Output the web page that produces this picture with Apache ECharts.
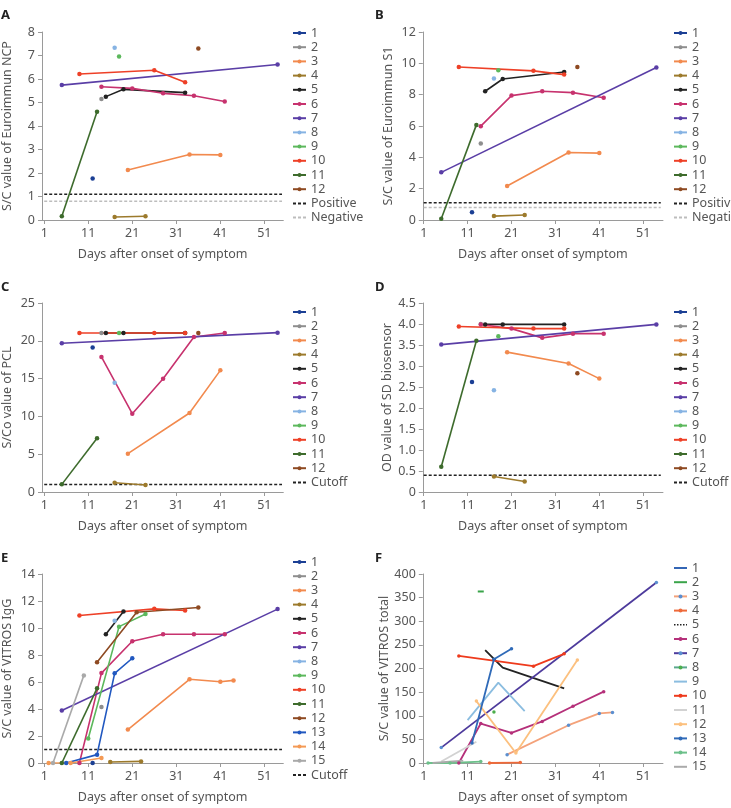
<!DOCTYPE html>
<html>
<head>
<meta charset="utf-8">
<script src="https://cdn.jsdelivr.net/npm/echarts@6/dist/echarts.min.js"></script>
<style>
  html, body { margin: 0; background: #fff; }
  #chart { width: 731px; height: 808px; }
</style>
</head>
<body>
<div id="chart"></div>
<script>
// patient labels and x ticks
const patients12 = ['1', '2', '3', '4', '5', '6', '7', '8', '9', '10', '11', '12']
const patients15 = ['1', '2', '3', '4', '5', '6', '7', '8', '9', '10', '11', '12', '13', '14', '15']
const dayTicks = [1, 11, 21, 31, 41, 51]

// sampling days of patients 1-12 (panels A-D)
const sampleDays = [[12], [14], [20, 34, 41], [17, 24], [15, 19, 33], [14, 21, 28, 35, 42], [5, 54], [17], [18], [9, 26, 33], [5, 13], [36]]

// A: Euroimmun NCP
const ncpValues = [[1.77], [5.15], [2.13, 2.79, 2.77], [0.13, 0.16], [5.25, 5.56, 5.42], [5.67, 5.6, 5.39, 5.29, 5.04], [5.74, 6.62], [7.33], [6.96], [6.21, 6.37, 5.86], [0.16, 4.61], [7.3]]
const ncpPositive = 1.1
const ncpNegative = 0.8

// B: Euroimmun S1
const s1Values = [[0.49], [4.89], [2.17, 4.31, 4.27], [0.25, 0.32], [8.22, 9.0, 9.45], [5.99, 7.94, 8.22, 8.13, 7.8], [3.04, 9.73], [9.03], [9.56], [9.77, 9.52, 9.28], [0.08, 6.07], [9.77]]
const s1Positive = 1.1
const s1Negative = 0.8

// C: PCL
const pclValues = [[19.1], [21.03], [5.07, 10.45, 16.09], [1.23, 0.93], [21.03, 21.03, 21.03], [17.86, 10.36, 14.99, 20.5, 21.03], [19.67, 21.08], [14.46], [21.03], [21.03, 21.03, 21.03], [1.01, 7.1], [21.03]]
const pclCutoff = 1.0

// D: SD biosensor
const sdValues = [[2.62], [4.0], [3.33, 3.06, 2.7], [0.37, 0.25], [3.99, 3.99, 3.99], [3.99, 3.89, 3.67, 3.77, 3.77], [3.51, 3.99], [2.42], [3.71], [3.94, 3.89, 3.89], [0.6, 3.6], [2.83]]
const sdCutoff = 0.4

// E: VITROS IgG  [day, value]
const iggPoints = [
  [[12, 0]],
  [[14, 4.15]],
  [[20, 2.48], [34, 6.2], [41, 6.02], [44, 6.12]],
  [[16, 0.07], [23, 0.12]],
  [[15, 9.54], [19, 11.22]],
  [[9, 0], [14, 6.66], [21, 9.02], [28, 9.54], [35, 9.54], [42, 9.54]],
  [[5, 3.89], [54, 11.4]],
  [[17, 10.53]],
  [[11, 1.81], [18, 10.1], [24, 11.03]],
  [[9, 10.93], [26, 11.42], [33, 11.3]],
  [[5, 0], [13, 5.53]],
  [[13, 7.46], [22, 11.17], [36, 11.52]],
  [[6, 0], [13, 0.62], [17, 6.64], [21, 7.76]],
  [[2, 0], [7, 0], [14, 0.37]],
  [[3, 0], [10, 6.49]]
]
const iggCutoff = 1.0

// F: VITROS total  [day, value]
const totalPoints = [
  [[12, 0]],
  [[14, 363]],
  [[20, 17.7], [34, 80], [41, 105], [44, 107]],
  [[16, 0], [23, 1]],
  [[15, 239], [19, 202], [33, 158]],
  [[9, 0], [14, 83.5], [21, 63.7], [28, 88], [35, 120], [42, 151]],
  [[5, 32.6], [54, 382]],
  [[17, 108]],
  [[11, 90.6], [18, 170], [24, 110]],
  [[9, 226.5], [26, 205], [33, 231]],
  [[5, 3], [13, 45]],
  [[13, 131], [22, 21], [36, 218]],
  [[12, 42.5], [17, 219.5], [21, 242]],
  [[2, 0], [7, 0], [14, 3]],
  [[3, 0], [10, 5]]
]

const colors = ['#1b3f94', '#8e8e8e', '#f28a4e', '#9c7a2c', '#222222', '#c7326e', '#5a3ea6', '#86b3e3', '#5cb85c', '#ee4027', '#3d6b2c', '#8e4a22', '#2158c0', '#f49a55', '#a9a9a9']

// panel F uses its own look
const fStyles = [
  { line: '#3466b5', dot: null },
  { line: '#3aa44a', dot: '#3aa44a', sym: 'rect' },
  { line: '#f4a27a', dot: '#5b8fd0' },
  { line: '#ee6a3a', dot: '#ee6a3a' },
  { line: '#222222', dot: null, dotted: true },
  { line: '#b5307a', dot: '#b5307a' },
  { line: '#4d3a9c', dot: '#5b8fd0' },
  { line: '#5aa88e', dot: '#4cae4c' },
  { line: '#8bbde0', dot: null },
  { line: '#ee3a1c', dot: '#ee3a1c' },
  { line: '#d2d2d2', dot: null },
  { line: '#fcc07e', dot: '#fcc07e' },
  { line: '#2f6ab8', dot: '#2f6ab8' },
  { line: '#6cc08a', dot: '#6cc08a' },
  { line: '#aaaaaa', dot: null }
]

const FONT = '"Noto Sans", sans-serif'
const TXT = '#555'
const AXC = '#9a9a9a'

const zip = (days, vals) => days.map((d, i) => [d, vals[i]])

const panels = [
  { key: 'A', yName: 'S/C value of Euroimmun NCP', yMax: 8, yStep: 1, right: false, row: 0,
    lines: sampleDays.map((d, i) => zip(d, ncpValues[i])), names: patients12,
    refs: [{ name: 'Positive', v: ncpPositive, c: '#222' }, { name: 'Negative', v: ncpNegative, c: '#bdbdbd' }] },
  { key: 'B', yName: 'S/C value of Euroimmun S1', yMax: 12, yStep: 2, right: true, row: 0,
    lines: sampleDays.map((d, i) => zip(d, s1Values[i])), names: patients12,
    refs: [{ name: 'Positive', v: s1Positive, c: '#222' }, { name: 'Negative', v: s1Negative, c: '#bdbdbd' }] },
  { key: 'C', yName: 'S/Co value of PCL', yMax: 25, yStep: 5, right: false, row: 1,
    lines: sampleDays.map((d, i) => zip(d, pclValues[i])), names: patients12,
    refs: [{ name: 'Cutoff', v: pclCutoff, c: '#222' }] },
  { key: 'D', yName: 'OD value of SD biosensor', yMax: 4.5, yStep: 0.5, right: true, row: 1, dec: true,
    lines: sampleDays.map((d, i) => zip(d, sdValues[i])), names: patients12,
    refs: [{ name: 'Cutoff', v: sdCutoff, c: '#222' }] },
  { key: 'E', yName: 'S/C value of VITROS IgG', yMax: 14, yStep: 2, right: false, row: 2,
    lines: iggPoints, names: patients15,
    refs: [{ name: 'Cutoff', v: iggCutoff, c: '#222' }] },
  { key: 'F', yName: 'S/C value of VITROS total', yMax: 400, yStep: 50, right: true, row: 2,
    lines: totalPoints, names: patients15, refs: [] }
]

const rowTop = [32, 303, 574]
const rowH = [188, 189, 189]
const legendTop = [26, 305, 555]

const grid = [], xAxis = [], yAxis = [], legend = [], series = [], graphic = []

panels.forEach((p, gi) => {
  const xMin = p.right ? 0.8 : 0.5
  const xMax = p.right ? 55.5 : 55.3
  const ppd = p.right ? 4.39 : 4.42
  const x1 = p.right ? 423.7 : 43.3
  grid.push({ left: x1 - (1 - xMin) * ppd, top: rowTop[p.row], width: (xMax - xMin) * ppd, height: rowH[p.row] })

  xAxis.push({
    type: 'value', gridIndex: gi, min: xMin, max: xMax,
    name: 'Days after onset of symptom', nameLocation: 'middle', nameGap: 28,
    nameTextStyle: { color: TXT, fontSize: 12.5, fontFamily: FONT },
    axisLine: { lineStyle: { color: AXC } },
    axisTick: { customValues: dayTicks, length: 4, lineStyle: { color: AXC } },
    axisLabel: { customValues: dayTicks, color: TXT, fontSize: 12.5, fontFamily: FONT, margin: 7 },
    splitLine: { show: false }
  })
  yAxis.push({
    type: 'value', gridIndex: gi, min: 0, max: p.yMax, interval: p.yStep,
    name: p.yName, nameLocation: 'middle', nameGap: 28,
    nameTextStyle: { color: TXT, fontSize: 12.5, fontFamily: FONT },
    axisLine: { show: true, lineStyle: { color: AXC } },
    axisTick: { show: true, length: 4, lineStyle: { color: AXC } },
    axisLabel: { color: TXT, fontSize: 12.5, fontFamily: FONT, margin: 7,
      formatter: v => (p.dec && v !== 0 ? v.toFixed(1) : String(v)) },
    splitLine: { show: false }
  })

  const legendData = []
  p.lines.forEach((pts, i) => {
    const name = p.key + ':' + p.names[i]
    const isF = p.key === 'F'
    const st = isF ? fStyles[i] : null
    const s = {
      name, type: 'line', xAxisIndex: gi, yAxisIndex: gi, data: pts,
      symbol: 'circle', symbolSize: 4.5, showSymbol: true,
      lineStyle: { width: 1.6, color: isF ? st.line : colors[i] },
      itemStyle: { color: isF ? (st.dot || st.line) : colors[i] },
      emphasis: { disabled: true }, animation: false, z: 2
    }
    const item = { name }
    if (isF) {
      s.lineStyle.width = 1.8
      if (!st.dot) { s.symbol = 'none'; item.itemStyle = { opacity: 0 } }
      else s.symbolSize = 3.5
      if (st.sym === 'rect') { s.symbol = 'rect'; s.symbolSize = [6, 2]; item.itemStyle = { opacity: 0 } }
      if (st.dotted) item.lineStyle = { type: [1.5, 1.5], width: 1.5 }
    }
    series.push(s)
    legendData.push(item)
  })
  p.refs.forEach(r => {
    const name = p.key + ':' + r.name
    series.push({
      name, type: 'line', xAxisIndex: gi, yAxisIndex: gi,
      data: [[1, r.v], [55, r.v]], symbol: 'none',
      lineStyle: { width: 1.5, color: r.c, type: [3, 2] },
      itemStyle: { color: r.c }, emphasis: { disabled: true }, animation: false, z: 1
    })
    legendData.push({ name, itemStyle: { opacity: 0 } })
  })

  legend.push({
    orient: 'vertical', left: p.right ? 673 : 292, top: legendTop[p.row] + (p.key === 'F' ? 6 : 0),
    itemWidth: 13, itemHeight: 5, itemGap: 0.2, padding: 0,
    textStyle: { color: TXT, fontSize: 12.5, fontFamily: FONT, lineHeight: 14 },
    formatter: n => n.split(':')[1], selectedMode: false,
    data: legendData
  })

  graphic.push({
    type: 'text', left: p.right ? 375 : 1, top: [9, 281, 552][p.row],
    style: { text: p.key, font: 'bold 13px ' + FONT, fill: '#222' }
  })
})

const chart = echarts.init(document.getElementById('chart'))
chart.setOption({
  backgroundColor: '#fff',
  animation: false,
  grid, xAxis, yAxis, legend, series, graphic
})
</script>
</body>
</html>
